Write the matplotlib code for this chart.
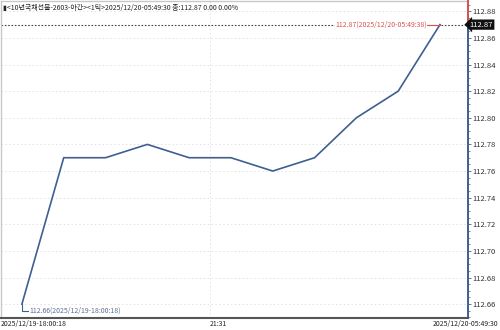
import matplotlib
matplotlib.use("Agg")
import matplotlib.pyplot as plt
from matplotlib.ticker import MultipleLocator, FormatStrFormatter

plt.rcParams['font.family'] = ['Noto Sans CJK KR', 'DejaVu Sans']

# ---- data ----
prices = [112.66, 112.77, 112.77, 112.78, 112.77, 112.77, 112.76, 112.77, 112.80, 112.82, 112.87]
x_idx = list(range(len(prices)))
title_text = "<10년국채선물-2603-야간><1틱>2025/12/20-05:49:30 종:112.87 0.00 0.00%"
start_label = "2025/12/19-18:00:18"
mid_label = "21:31"
mid_pos = 4.5
end_label = "2025/12/20-05:49:30"
last_note = "112.87(2025/12/20-05:49:38)"
first_note = "112.66(2025/12/19-18:00:18)"
y_ticks = [112.66, 112.68, 112.70, 112.72, 112.74, 112.76, 112.78, 112.80, 112.82, 112.84, 112.86, 112.88]

line_color = '#3f5f91'
red = '#d9534f'
fs = 5.0
fig = plt.figure(figsize=(5, 3.3), dpi=100)
ax = fig.add_axes([0.002, 0.036, 0.934, 0.962])

ax.plot(x_idx, prices, color=line_color, lw=1.2, zorder=3)

ax.set_xlim(-0.5, 10.67)
ymin, ymax = 112.6495, 112.888
ax.set_ylim(ymin, ymax)

# grid
ax.set_yticks(y_ticks)
ax.yaxis.set_minor_locator(MultipleLocator(0.005))
ax.yaxis.set_major_formatter(FormatStrFormatter('%.2f'))
for yv in y_ticks:
    ax.axhline(yv, color='#e2e2e2', lw=0.7, ls=(0, (1.5, 2.5)), zorder=1)
ax.axvline(mid_pos, color='#e2e2e2', lw=0.7, ls=(0, (1.5, 2.5)), zorder=1)

ax.yaxis.tick_right()
ax.tick_params(axis='y', which='major', labelsize=5.5, length=2, width=0.6, color=line_color,
               pad=1, labelcolor='#333333')
ax.tick_params(axis='y', which='minor', length=1.5, width=0.5, color=line_color)
ax.set_xticks([])

for s in ['top', 'left']:
    ax.spines[s].set_color('#c8c8c8')
    ax.spines[s].set_linewidth(1.0)
ax.spines['right'].set_color(line_color)
ax.spines['right'].set_linewidth(1.4)
ax.spines['bottom'].set_color('#555555')
ax.spines['bottom'].set_linewidth(1.5)

# red segment on right spine above last price
last = prices[-1]
ax.plot([1, 1], [last, ymax], transform=ax.get_yaxis_transform(), color=red,
        lw=1.4, clip_on=False, zorder=5)
# reference dotted line at last price
ax.axhline(last, color='#444444', lw=0.8, ls=(0, (1.5, 1.5)), zorder=2)
# red note near last point
ax.plot([x_idx[-1] - 0.3, x_idx[-1]], [last, last], color=red, lw=0.8, zorder=4)
ax.text(x_idx[-1] - 0.32, last, last_note, color=red, fontsize=fs,
        ha='right', va='center', zorder=4,
        bbox=dict(facecolor='white', edgecolor='none', pad=0.3))
# last price label box
ax.text(1.004, last, f"{last:.2f}", transform=ax.get_yaxis_transform(), color='white',
        fontsize=5.5, ha='left', va='center', zorder=6, clip_on=False,
        bbox=dict(boxstyle='larrow,pad=0.15', facecolor='#111111', edgecolor='none'))

# first point note
ax.plot([x_idx[0], x_idx[0], x_idx[0] + 0.15], [prices[0], prices[0] - 0.005, prices[0] - 0.005],
        color=line_color, lw=0.8, zorder=4)
ax.text(x_idx[0] + 0.17, prices[0] - 0.005, first_note, color='#5a6f96', fontsize=fs,
        ha='left', va='center', zorder=4)

# title
ax.text(0.004, 0.99, "▮" + title_text, transform=ax.transAxes, fontsize=fs,
        ha='left', va='top', color='#222222')

# x labels
lab_y = -0.018
ax.text(0.0, lab_y, start_label, transform=ax.transAxes, fontsize=fs, ha='left', va='center',
        color='#222222', clip_on=False)
ax.text(mid_pos, lab_y, mid_label, transform=ax.get_xaxis_transform(), fontsize=fs, ha='left',
        va='center', color='#222222', clip_on=False)
fig.text(0.997, 0.018, end_label, fontsize=fs, ha='right', va='center', color='#222222')

fig.savefig('out.png', dpi=100)
